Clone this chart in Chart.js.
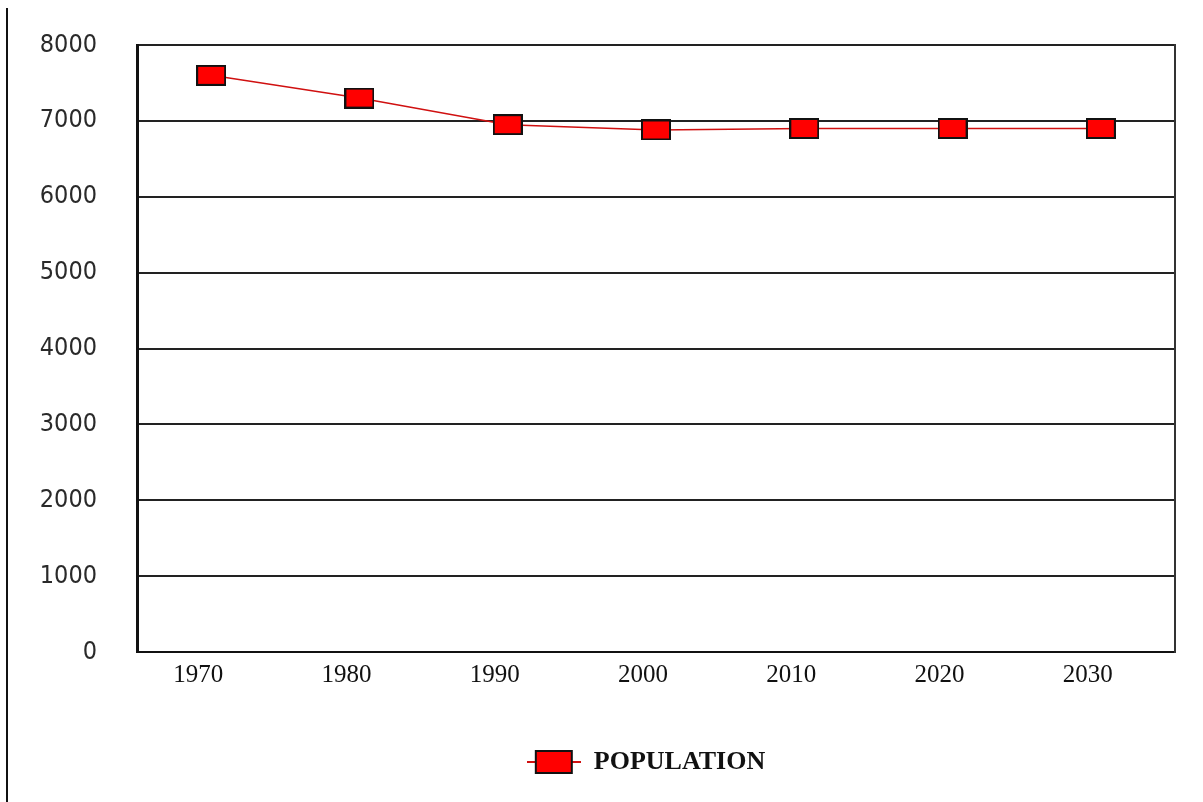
<!DOCTYPE html>
<html>
<head>
<meta charset="utf-8">
<script src="https://cdn.jsdelivr.net/npm/chart.js@4.4.1/dist/chart.umd.min.js"></script>
<style>
  html, body { margin: 0; padding: 0; background: #fff; }
  #wrap { position: relative; width: 1203px; height: 802px; overflow: hidden; }
  #rule { position: absolute; left: 6px; top: 8px; width: 0; height: 794px; border-left: 2px solid #111; }
  #c { position: absolute; left: 0; top: 0; }
</style>
</head>
<body>
<div id="wrap">
  <div id="rule"></div>
  <canvas id="c" width="1203" height="802"></canvas>
</div>
<script>
// Population by decade
const years = ['1970', '1980', '1990', '2000', '2010', '2020', '2030'];
const population = [7600, 7300, 6950, 6880, 6900, 6900, 6900];
const yTicks = [0, 1000, 2000, 3000, 4000, 5000, 6000, 7000, 8000];
const seriesName = 'POPULATION';

// Red box marker with black outline; optional line through it for the legend
function boxMarker(w, h, lineLen) {
  const c = document.createElement('canvas');
  c.width = lineLen || w;
  c.height = h;
  const g = c.getContext('2d');
  if (lineLen) {
    g.strokeStyle = '#d01010';
    g.lineWidth = 2;
    g.beginPath();
    g.moveTo(0, h / 2);
    g.lineTo(lineLen, h / 2);
    g.stroke();
  }
  const x0 = (c.width - w) / 2;
  g.fillStyle = '#ff0000';
  g.fillRect(x0 + 1, 1, w - 2, h - 2);
  g.strokeStyle = '#111';
  g.lineWidth = 2;
  g.strokeRect(x0 + 1, 1, w - 2, h - 2);
  return c;
}

const pointMarker = boxMarker(30, 21);
const legendMarker = boxMarker(38, 24, 54);

// Nudge the legend a little left of the plot centre
const legendShift = {
  id: 'legendShift',
  afterLayout(chart) {
    if (chart.legend) {
      chart.legend.left -= 10;
      chart.legend.right -= 10;
    }
  }
};

new Chart(document.getElementById('c'), {
  type: 'line',
  data: {
    labels: years,
    datasets: [{
      label: seriesName,
      data: population,
      borderColor: '#d01010',
      borderWidth: 1.5,
      pointStyle: pointMarker,
      pointRadius: 10,
      pointHoverRadius: 10,
      tension: 0,
      fill: false
    }]
  },
  plugins: [legendShift],
  options: {
    responsive: false,
    animation: false,
    events: [],
    layout: { padding: { left: 0, right: 28, top: 45, bottom: 17 } },
    plugins: {
      tooltip: { enabled: false },
      legend: {
        position: 'bottom',
        fullSize: false,
        labels: {
          usePointStyle: true,
          pointStyleWidth: 54,
          boxHeight: 24,
          padding: 10,
          color: '#111',
          font: { family: "'Liberation Serif', 'Times New Roman', serif", size: 26, weight: 'bold' },
          generateLabels: () => [{
            text: seriesName,
            pointStyle: legendMarker,
            fillStyle: '#ff0000',
            strokeStyle: '#111',
            fontColor: '#111',
            lineWidth: 0,
            hidden: false,
            datasetIndex: 0
          }]
        }
      }
    },
    scales: {
      x: {
        offset: true,
        grid: { display: false, drawTicks: false },
        border: { display: true, color: '#111', width: 2 },
        ticks: {
          padding: 8,
          labelOffset: -13,
          color: '#111',
          font: { family: "'Liberation Serif', 'Times New Roman', serif", size: 25 }
        },
        afterFit(s) { s.height = 87; }
      },
      y: {
        min: 0,
        max: 8000,
        afterBuildTicks(s) { s.ticks = yTicks.map(v => ({ value: v })); },
        grid: { color: '#222', lineWidth: 2, drawTicks: false },
        border: { color: '#111', width: 3 },
        ticks: {
          padding: 40,
          color: '#2a2a2a',
          callback: v => String(v),
          font: { family: "'Liberation Sans Narrow', 'DejaVu Sans Condensed', sans-serif", size: 25 }
        },
        afterFit(s) {
          s.width = 137;
          s.paddingTop = 0;
          s.paddingBottom = 0;
        }
      },
      y2: {
        position: 'right',
        min: 0,
        max: 8000,
        grid: { display: false, drawTicks: false },
        ticks: { display: false },
        border: { color: '#333', width: 2 },
        afterFit(s) { s.width = 0; }
      }
    }
  }
});
</script>
</body>
</html>
